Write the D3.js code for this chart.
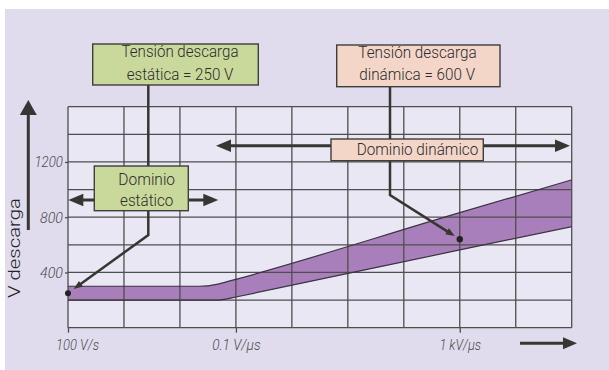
<!DOCTYPE html>
<html><head><meta charset="utf-8">
<script src="https://cdn.jsdelivr.net/npm/d3@7"></script>
<style>body{margin:0;background:#fff}svg{display:block}text{font-family:Roboto,"Noto Sans",sans-serif}</style>
</head><body>
<script>
// ---- data ----
const rates = [1e2, 2.2e4, 4.8e4, 7e4, 1e5, 1e9, 1e11];          // V/s
const upperV = [300, 300, 316, 333, 350, 833, 1070];              // V
const lowerV = [200, 200, 200, 209, 222, 563, 732];               // V
const xTickValues = [1e2, 1e5, 1e9];
const xTickLabels = ["100 V/s", "0.1 V/\u00b5s", "1 kV/\u00b5s"];
const yTickValues = [400, 800, 1200];
const staticPoint = [1e2, 250];
const dynamicPoint = [1e9, 640];

// ---- layout ----
const W = 609, H = 370;
const P = {l: 68, r: 571.7, t: 106.7, b: 327.7};
const ink = "#363632";

const svg = d3.select("body").append("svg").attr("width", W).attr("height", H);
svg.append("rect").attr("x", 5).attr("y", 9).attr("width", W - 5).attr("height", H - 9).attr("fill", "#e0dcee");

const x = d3.scaleLog().domain([1e2, 1e11]).range([P.l, P.r]);
const y = d3.scaleLinear().domain([0, 1600]).range([P.b, P.t]);

svg.append("rect").attr("x", P.l).attr("y", P.t).attr("width", P.r - P.l).attr("height", P.b - P.t).attr("fill", "#e9e7f4");

const band = rates.map((r, i) => ({r, u: upperV[i], lo: lowerV[i]}));
svg.append("path").datum(band)
  .attr("d", d3.area().x(d => x(d.r)).y0(d => y(d.lo)).y1(d => y(d.u)).curve(d3.curveMonotoneX))
  .attr("fill", "#a87fba");

// grid
const decades = d3.range(2, 12).map(k => Math.pow(10, k));
const g = svg.append("g").attr("stroke", "#4e4e4c").attr("stroke-width", 1.3);
g.selectAll(".v").data(decades).join("line")
  .attr("x1", d => x(d)).attr("x2", d => x(d)).attr("y1", P.t).attr("y2", P.b);
g.selectAll(".h").data(d3.range(0, 1601, 200)).join("line")
  .attr("y1", d => y(d)).attr("y2", d => y(d)).attr("x1", P.l).attr("x2", P.r);

// band outlines
const lineU = d3.line().x(d => x(d.r)).y(d => y(d.u)).curve(d3.curveMonotoneX);
const lineL = d3.line().x(d => x(d.r)).y(d => y(d.lo)).curve(d3.curveMonotoneX);
svg.append("path").datum(band).attr("d", lineU).attr("fill", "none").attr("stroke", "#3a3340").attr("stroke-width", 1.2);
svg.append("path").datum(band).attr("d", lineL).attr("fill", "none").attr("stroke", "#3a3340").attr("stroke-width", 1.2);

// axes
const xAxis = svg.append("g").attr("transform", `translate(0,${P.b})`)
  .call(d3.axisBottom(x).tickValues(xTickValues).tickSize(5).tickFormat((d, i) => xTickLabels[i]));
xAxis.select(".domain").remove();
xAxis.selectAll("line").attr("stroke", "#4e4e4c").attr("stroke-width", 1.3);
xAxis.selectAll("text").attr("font-size", 14).attr("font-style", "italic").attr("font-weight", 300).attr("fill", "#4a4a4a")
  .attr("y", 0).attr("dy", 22).attr("dx", (d, i) => i === 0 ? 9 : 0).attr("textLength", (d, i) => [43, 48.5, 41.7][i]).attr("lengthAdjust", "spacingAndGlyphs");

const yAxis = svg.append("g").attr("transform", `translate(${P.l},0)`)
  .call(d3.axisLeft(y).tickValues(yTickValues).tickSize(3).tickFormat(d3.format("d")));
yAxis.select(".domain").remove();
yAxis.selectAll("line").attr("stroke", "#4e4e4c").attr("stroke-width", 1.3);
yAxis.selectAll("text").attr("font-size", 15).attr("font-style", "italic").attr("font-weight", 300).attr("fill", "#4a4a4a")
  .attr("x", -5).attr("textLength", d => d >= 1000 ? 28.5 : 23).attr("lengthAdjust", "spacingAndGlyphs");

// helpers
function head(tx, ty, ang, len, wid) {
  const c = Math.cos(ang), s = Math.sin(ang);
  const bx = tx - c * len, by = ty - s * len;
  const px = -s * wid / 2, py = c * wid / 2;
  svg.append("path").attr("d", `M${tx},${ty}L${bx + px},${by + py}L${bx - px},${by - py}Z`).attr("fill", ink);
}
function arrowLine(x1, y1, x2, y2, sw, len, wid, both) {
  const ang = Math.atan2(y2 - y1, x2 - x1);
  const c = Math.cos(ang), s = Math.sin(ang);
  svg.append("line").attr("x1", both ? x1 + c * len * 0.8 : x1).attr("y1", both ? y1 + s * len * 0.8 : y1)
    .attr("x2", x2 - c * len * 0.8).attr("y2", y2 - s * len * 0.8).attr("stroke", ink).attr("stroke-width", sw);
  head(x2, y2, ang, len, wid);
  if (both) head(x1, y1, ang + Math.PI, len, wid);
}

// connectors
const sp = [x(staticPoint[0]), y(staticPoint[1])];
const dp = [x(dynamicPoint[0]), y(dynamicPoint[1])];
function connector(cx, top, bend, pt, back) {
  const ang = Math.atan2(pt[1] - bend, pt[0] - cx);
  const tx = pt[0] - Math.cos(ang) * back, ty = pt[1] - Math.sin(ang) * back;
  svg.append("polyline").attr("points", `${cx},${top} ${cx},${bend} ${tx - Math.cos(ang) * 6},${ty - Math.sin(ang) * 6}`)
    .attr("fill", "none").attr("stroke", ink).attr("stroke-width", 2.5);
  head(tx, ty, ang, 9, 7);
}
connector(148.3, 85, 235, sp, 7);
connector(390, 86.7, 195, dp, 6);

// domain arrows
arrowLine(68.3, 200, 218.3, 200, 3, 15, 12.5, true);
arrowLine(216, 145.7, 570, 145.7, 3, 15, 12.5, true);

// boxes
function box(x0, y0, x1, y1, fill) {
  svg.append("rect").attr("x", x0).attr("y", y0).attr("width", x1 - x0).attr("height", y1 - y0)
    .attr("fill", fill).attr("stroke", "#3e3e3c").attr("stroke-width", 1.4);
}
function label(tx, ty, str, len, size, anchor) {
  svg.append("text").attr("x", tx).attr("y", ty).attr("text-anchor", anchor || "middle")
    .attr("font-size", size || 16.5).attr("font-weight", 300).attr("fill", "#2b2b2b")
    .attr("textLength", len).attr("lengthAdjust", "spacingAndGlyphs").text(str);
}
const green = "#c9d99c", pink = "#f4d6c9";
box(92.7, 44, 258.3, 85, green);
label(180, 57, "Tensi\u00f3n descarga", 117);
label(180, 80.2, "est\u00e1tica = 250 V", 106.7);
box(336.7, 45, 500, 86.7, pink);
label(417.5, 57.7, "Tensi\u00f3n descarga", 118.4);
label(417.2, 79.7, "din\u00e1mica = 600 V", 115.7);
box(94.3, 166, 188.3, 210.7, green);
label(146.7, 184.7, "Dominio", 56.7, 17);
label(146.7, 206.2, "est\u00e1tico", 53.3, 17);
box(331, 139, 483.3, 160.7, pink);
label(356.7, 154.7, "Dominio din\u00e1mico", 121.6, 17, "start");

// dots
svg.append("circle").attr("cx", sp[0]).attr("cy", sp[1]).attr("r", 3).attr("fill", "#222");
svg.append("circle").attr("cx", dp[0]).attr("cy", dp[1]).attr("r", 3.2).attr("fill", "#222");

// axis arrows
arrowLine(28.3, 230, 28.3, 100, 3, 15, 17, false);
arrowLine(520, 343.3, 577, 343.3, 3, 14, 12, false);

// y title
svg.append("text").attr("transform", "translate(20,248) rotate(-90)").attr("text-anchor", "middle")
  .attr("font-size", 17).attr("font-weight", 300).attr("fill", "#222").attr("textLength", 100).attr("lengthAdjust", "spacingAndGlyphs").text("V descarga");
</script>
</body></html>
